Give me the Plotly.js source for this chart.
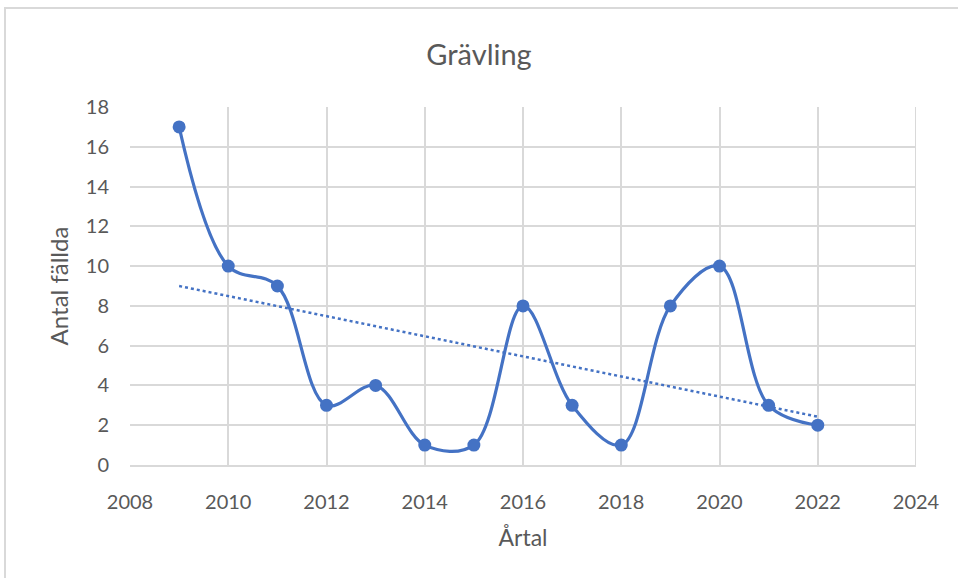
<!DOCTYPE html>
<html>
<head>
<meta charset="utf-8">
<script src="https://cdn.plot.ly/plotly-3.0.1.min.js"></script>
<style>
html,body{margin:0;padding:0;background:#fff;}
#wrap{position:relative;width:958px;height:578px;overflow:hidden;}
#frame{position:absolute;left:4px;top:7px;width:960px;height:580px;border-left:2px solid #d9d9d9;border-top:2px solid #d9d9d9;box-sizing:border-box;pointer-events:none;}
#chart{position:absolute;left:0;top:0;width:958px;height:578px;}
</style>
</head>
<body>
<div id="wrap"><div id="chart"></div><div id="frame"></div></div>
<script>
const years = [2009,2010,2011,2012,2013,2014,2015,2016,2017,2018,2019,2020,2021,2022];
const counts = [17,10,9,3,4,1,1,8,3,1,8,10,3,2];
const xTicks = [2008,2010,2012,2014,2016,2018,2020,2022,2024];
const yTicks = [0,2,4,6,8,10,12,14,16,18];

// linear trend line (least squares) from the data
const n = years.length;
const mx = years.reduce((a,b)=>a+b,0)/n;
const my = counts.reduce((a,b)=>a+b,0)/n;
let sxy=0,sxx=0;
for(let i=0;i<n;i++){sxy+=(years[i]-mx)*(counts[i]-my);sxx+=(years[i]-mx)**2;}
const slope=sxy/sxx, icpt=my-slope*mx;
const trendX=[years[0],years[n-1]];
const trendY=trendX.map(x=>icpt+slope*x);

const blue='#4472C4';
const grey='#595959';
const font='Lato, "Open Sans", sans-serif';

const data=[
 {x:trendX,y:trendY,mode:'lines',line:{color:blue,width:2.5,dash:'dot'},hoverinfo:'skip',showlegend:false},
 {x:years,y:counts,mode:'lines+markers',line:{color:blue,width:3.2,shape:'spline',smoothing:1},marker:{color:blue,size:13},showlegend:false}
];
const layout={
 width:958,height:578,
 margin:{l:130,r:42,t:107,b:113},
 paper_bgcolor:'#fff',plot_bgcolor:'#fff',
 title:{text:'Grävling',font:{family:font,size:29,color:grey},x:0.5,xanchor:'center',y:0.905,yanchor:'middle'},
 xaxis:{range:[2008,2024],tickvals:xTicks,ticktext:xTicks.map(String),showgrid:true,gridcolor:'#d9d9d9',gridwidth:2,
   zeroline:false,showline:true,linecolor:'#d9d9d9',linewidth:2,mirror:false,
   tickfont:{family:font,size:20,color:grey},ticks:'',ticklen:0,ticklabelstandoff:18,
   title:{text:'Årtal',font:{family:font,size:23,color:grey},standoff:18}},
 yaxis:{range:[0,18],tickvals:yTicks,ticktext:yTicks.map(String),showgrid:true,gridcolor:'#d9d9d9',gridwidth:2,
   zeroline:false,showline:false,
   tickfont:{family:font,size:20,color:grey},ticks:'',ticklabelstandoff:20,
   title:{text:'Antal fällda',font:{family:font,size:24,color:grey},standoff:10}},
 shapes:[{type:'line',xref:'x',yref:'y',x0:2024,x1:2024,y0:0,y1:18,line:{color:'#d9d9d9',width:2}}]
};
Plotly.newPlot('chart',data,layout,{staticPlot:true,displayModeBar:false});
</script>
</body>
</html>
